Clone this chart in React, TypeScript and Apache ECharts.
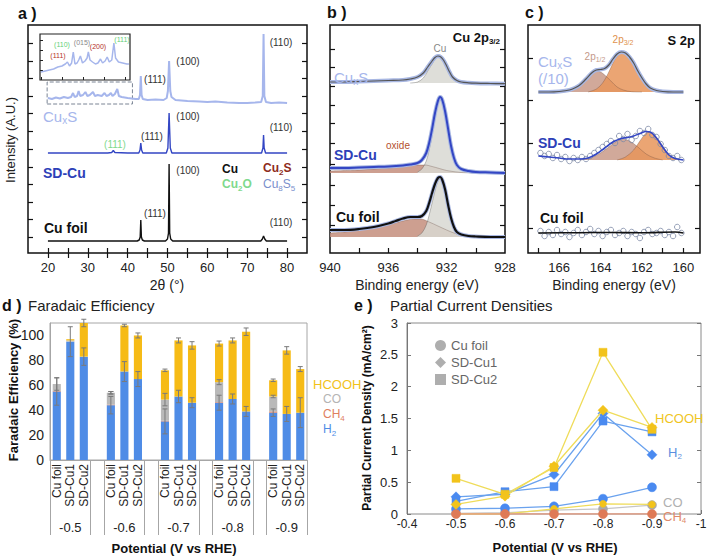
import React, { useEffect, useRef } from 'react';
import * as echarts from 'echarts';

const FONT = '"Liberation Sans", Arial, Helvetica, sans-serif';

// ---------- (a) XRD patterns: [2θ (°), intensity (a.u., stacked offsets)] ----------
const xrdCuFoil = [[20,12],[25,12],[30,12],[35,12],[40,12],[42.4,12],[42.9,13],[43.15,16],[43.3,33],[43.45,16],[43.7,13],[44.2,12],[49.5,12],[50.0,14],[50.25,20],[50.4,89],[50.55,20],[50.8,14],[51.3,12],[55,12],[60,12],[65,12],[70,12],[73.4,12],[73.8,14],[74.1,17],[74.4,14],[74.8,12],[80,12]];
const xrdSDCu = [[20,100],[25,100],[30,100],[35,100],[36.0,100.5],[36.4,102.5],[36.8,100.5],[40,100],[42.8,100],[43.1,103],[43.3,110],[43.5,103],[43.8,100],[49.7,100],[50.1,105],[50.4,140],[50.7,105],[51.1,100],[55,100],[60,100],[65,100],[70,100],[73.6,100],[73.95,105],[74.1,118],[74.25,105],[74.6,100],[80,100]];
const xrdCuxS = [[20,155],[21,154],[22,155.5],[23,154.5],[24,156],[25,155],[25.8,156],[26.3,160],[26.7,156],[27.3,157],[27.7,162],[28.1,157],[28.8,158],[29.4,161],[29.9,157],[30.5,158],[31.3,161],[31.8,157],[32.5,158],[33.5,157],[34.2,160],[34.7,157],[35.3,158],[35.8,160],[36.2,157],[36.8,159],[37.4,164],[37.8,157],[38.5,156],[40,155],[41,154.5],[42,154],[42.8,154],[43.1,158],[43.3,177],[43.5,158],[43.8,154],[45,153],[47,153.5],[49,153],[49.8,155],[50.1,162],[50.4,192],[50.7,162],[51,156],[52,153],[55,152],[58,151.5],[60,151],[62,151.5],[65,150.5],[68,150],[70,150],[72,150.5],[73.5,151],[73.9,157],[74.1,219],[74.3,157],[74.7,151],[76,150],[78,150.5],[80,150]];
const xrdInset = [[20,8],[21,9],[22,10],[23,11],[24,13],[25,14],[25.8,16],[26.3,18],[26.8,14],[27.3,17],[27.7,28],[28.1,16],[28.6,17],[29.0,20],[29.4,24],[29.9,17],[30.5,19],[31.0,22],[31.3,28],[31.7,20],[32.3,18],[33,16],[33.6,17],[34.2,21],[34.7,17],[35.3,19],[35.8,23],[36.3,18],[36.9,20],[37.4,37],[37.8,22],[38.5,18],[39.5,17],[40.5,16],[41,16]];

// ---------- (b) Cu 2p3/2 XPS: [binding energy (eV), intensity offset] ----------
const cu2pCuxSEnv = [[940,171],[939,171],[938,171.5],[937,172],[936,172.5],[935,173],[934.5,174],[934,176],[933.6,180],[933.3,186],[933,192],[932.8,195.5],[932.6,197],[932.4,196],[932.2,192.5],[932,187],[931.8,181],[931.6,176],[931.3,172.5],[931,171],[930.5,170.2],[930,169.8],[929,169.5],[928,169.3]];
const cu2pCuxSCu = [[934.5,170],[934,171],[933.6,175],[933.3,182],[933,189],[932.8,194],[932.6,196.5],[932.4,195.5],[932.2,192],[932,186.5],[931.8,180.5],[931.6,175.5],[931.3,172],[931,170.5],[930.5,170]];
const cu2pSDCuEnv = [[940,85],[939,85],[938,85.5],[937,86],[936,86.5],[935,87.5],[934.5,88.5],[934,90],[933.7,93],[933.4,100],[933.2,110],[933,124],[932.8,140],[932.6,152],[932.45,156],[932.3,153],[932.1,141],[931.9,124],[931.7,107],[931.5,95],[931.3,88],[931,84],[930.5,82],[930,81],[929,80.5],[928,80]];
const cu2pSDCuCu = [[934,81],[933.7,84],[933.4,92],[933.2,103],[933,118],[932.8,135],[932.6,149],[932.45,153],[932.3,150],[932.1,139],[931.9,122],[931.7,106],[931.5,94],[931.3,87],[931,83],[930.5,81],[930,80.5]];
const cu2pSDCuOxide = [[940,82],[938,83],[936,85],[935,86.5],[934,88],[933.5,88],[933,86.5],[932.5,84.5],[932,82.5],[931,80.5],[930,80]];
const cu2pCuFoilEnv = [[940,23],[939,23],[938,24],[937,26],[936,29.5],[935.5,32],[935,34.5],[934.5,36],[934,36],[933.7,37],[933.4,42],[933.2,50],[933,60],[932.8,69],[932.6,75],[932.45,76],[932.3,73],[932.1,63],[931.9,48],[931.7,35],[931.5,26],[931.3,21],[931,18.5],[930.5,17],[930,16.5],[929,16],[928,16]];
const cu2pCuFoilCu = [[934,17],[933.7,20],[933.4,28],[933.2,38],[933,50],[932.8,62],[932.6,72],[932.45,74],[932.3,71],[932.1,61],[931.9,47],[931.7,34],[931.5,25],[931.3,20],[931,17.5],[930.5,16.5]];
const cu2pCuFoilOxide = [[940,20],[939,21],[938,23],[937,25.5],[936,28.5],[935,32],[934.2,34],[933.8,34],[933.2,31],[932.6,27],[932,23],[931.5,20],[931,18],[930,16.5],[929,16]];

// ---------- (c) S 2p XPS ----------
const s2pCuxSEnv = [[167,161],[166.5,161],[166,161.5],[165.5,163],[165.2,165.5],[165,168],[164.7,174],[164.4,180.5],[164.2,183],[164,183.5],[163.8,184.5],[163.6,188],[163.4,194],[163.2,199],[163,201],[162.8,200],[162.6,196],[162.4,190],[162.2,182],[162,175],[161.8,169],[161.6,165],[161.3,162.5],[161,161.5],[160.5,161],[160,161]];
const s2pCuxS12 = [[165.8,161],[165.4,163],[165,167],[164.7,173.5],[164.4,180],[164.2,182],[164,181],[163.8,178],[163.5,172],[163.2,166],[162.9,163],[162.5,161.3],[162,161]];
const s2pCuxS32 = [[164.6,161],[164.2,164],[163.9,170],[163.6,181],[163.4,190],[163.2,197],[163,200],[162.8,199],[162.6,195],[162.4,189],[162.2,181],[162,174],[161.8,168],[161.6,164.5],[161.3,162],[161,161]];
const s2pSDCuEnv = [[167,97],[166.5,96],[166,95],[165.5,94],[165,94],[164.6,95],[164.2,99],[163.8,105],[163.4,111],[163,114.5],[162.7,115.5],[162.4,117],[162.1,119.5],[161.8,121.5],[161.6,121],[161.3,115],[161,106],[160.7,98],[160.4,94.5],[160,93]];
const s2pSDCu12 = [[165,93],[164.5,95],[164,100],[163.6,106],[163.2,112],[162.9,113.5],[162.6,112],[162.2,106],[161.8,99],[161.4,95],[161,93]];
const s2pSDCu32 = [[163.2,93],[162.8,96],[162.4,103],[162.1,112],[161.8,120],[161.65,121],[161.4,118],[161.1,110],[160.8,101],[160.5,95],[160.2,93]];
const s2pSDCuData = [[166.9,100],[166.7,97],[166.5,99],[166.3,95],[166.1,98],[165.9,94],[165.7,96],[165.5,92],[165.3,95],[165.1,93],[164.9,96],[164.7,94],[164.5,97],[164.3,100],[164.1,103],[163.9,106],[163.7,109],[163.5,112],[163.3,110],[163.1,117],[162.9,114],[162.7,119],[162.5,113],[162.3,117],[162.1,122],[161.9,120],[161.7,124],[161.5,118],[161.3,116],[161.1,109],[160.9,103],[160.7,97],[160.5,95],[160.3,97],[160.1,93]];
const s2pCuFoilFit = [[167,20],[165,20.3],[163.5,20.5],[162,20.2],[160.4,21],[160,20]];
const s2pCuFoilData = [[166.9,22],[166.7,17],[166.5,21],[166.3,18],[166.1,23],[165.9,19],[165.7,21],[165.5,16],[165.3,20],[165.1,23],[164.9,18],[164.7,21],[164.5,24],[164.3,19],[164.1,22],[163.9,17],[163.7,21],[163.5,23],[163.3,18],[163.1,20],[162.9,22],[162.7,17],[162.5,21],[162.3,19],[162.1,15],[161.9,21],[161.7,23],[161.5,19],[161.3,20],[161.1,22],[160.9,18],[160.7,21],[160.5,17],[160.3,26],[160.1,20]];

// ---------- (d) Faradaic efficiency (%) ----------
const potentials = ['-0.5', '-0.6', '-0.7', '-0.8', '-0.9'];
const catalysts = ['Cu foil', 'SD-Cu1', 'SD-Cu2'];
const feH2 = [55, 95, 83, 44, 71, 65, 31, 51, 46, 46, 49, 39, 38, 37, 38];
const feCH4 = [0.5, 0, 0, 0.5, 0, 0, 0.5, 0, 0, 0.5, 0, 0, 1, 0, 0];
const feCO = [5.5, 1, 0, 9.5, 0, 0, 17, 0, 0, 16, 0, 0, 12, 0, 0];
const feHCOOH = [0, 1, 27, 0, 37, 35, 23.5, 45, 46, 31, 47, 64, 13, 51, 35];
const errH2 = [11, 12, 7, 7, 8, 6, 10, 5, 4, 6, 4, 4, 3, 6, 12];
const errCO = [0, 0, 0, 1, 0, 0, 5, 0, 0, 2, 0, 0, 1, 0, 0];
const errTop = [5, 0, 3, 1, 1, 2, 1, 2, 3, 2, 2, 3, 1, 3, 2];

// ---------- (e) Partial current densities (mA/cm²) ----------
const potE = [-0.5, -0.6, -0.7, -0.8, -0.9];
const jH2CuFoil = [0.08, 0.09, 0.12, 0.24, 0.42];
const jH2SDCu1 = [0.27, 0.31, 0.62, 1.58, 0.93];
const jH2SDCu2 = [0.2, 0.35, 0.43, 1.46, 1.29];
const jHCOOHCuFoil = [0, 0, 0.08, 0.16, 0.15];
const jHCOOHSDCu1 = [0.15, 0.28, 0.75, 1.63, 1.36];
const jHCOOHSDCu2 = [0.56, 0.31, 0.73, 2.54, 1.33];
const jCOCuFoil = [0.01, 0.02, 0.06, 0.08, 0.14];
const jCH4CuFoil = [0, 0, 0, 0, 0];

function buildOption(): any {
  // slots for panel d (groups separated by an empty slot)
  const slotKeys: string[] = [];
  potentials.forEach((p, gi) => {
    catalysts.forEach((c) => slotKeys.push(c + '|' + p));
    if (gi < potentials.length - 1) slotKeys.push('gap|' + gi);
  });
  const toSlots = (arr: number[]) => {
    let k = 0;
    return slotKeys.map((s) => (s.startsWith('gap') ? null : arr[k++]));
  };
  const sepIdx: number[] = [];
  potentials.forEach((_, gi) => { sepIdx.push(gi * 4); if (gi < potentials.length - 1) sepIdx.push(gi * 4 + 3); });
  const errBars: number[][] = [];
  potentials.forEach((_, gi) => catalysts.forEach((_c, ci) => {
    const idx = gi * 4 + ci; const i = gi * 3 + ci;
    const h = feH2[i];
    errBars.push([idx, h - errH2[i], h + errH2[i]]);
    const co = h + feCH4[i] + feCO[i];
    if (errCO[i] > 0) errBars.push([idx, co - errCO[i], co + errCO[i]]);
    const tot = co + feHCOOH[i];
    if (errTop[i] > 0) errBars.push([idx, tot - errTop[i], tot + errTop[i]]);
  }));
  const pe = (arr: number[]) => potE.map((x, i) => [x, arr[i]]);

  const tk = { color: '#111', width: 1.2 };
  const off = { show: false };
  const frameGrid = (left: number, top: number, width: number, height: number, color = '#111', bw = 1.5) =>
    ({ left, top, width, height, show: true, borderColor: color, borderWidth: bw, backgroundColor: 'transparent', outerBoundsMode: 'none', containLabel: false });
  const lbl = (extra: any = {}) => ({ fontSize: 13, color: '#222', fontFamily: FONT, ...extra });

  const line = (data: any, xi: number, yi: number, color: string, width: number, extra: any = {}) => ({
    type: 'line', data, xAxisIndex: xi, yAxisIndex: yi, symbol: 'none', showSymbol: false, silent: true,
    lineStyle: { color, width }, z: 3, ...extra,
  });
  const fill = (data: any, xi: number, yi: number, color: string, origin: number, edge = 'rgba(90,60,50,0.5)') => ({
    type: 'line', data, xAxisIndex: xi, yAxisIndex: yi, symbol: 'none', showSymbol: false, silent: true, smooth: 0.35,
    lineStyle: { color: edge, width: 0.6 }, areaStyle: { color, opacity: 0.85, origin }, z: 1,
  });
  const scatterOpen = (data: any, xi: number, yi: number) => ({
    type: 'scatter', data, xAxisIndex: xi, yAxisIndex: yi, symbol: 'circle', symbolSize: 5.5, silent: true,
    itemStyle: { color: 'rgba(255,255,255,0)', borderColor: '#7d8aa6', borderWidth: 1 }, z: 2,
  });
  const eLine = (name: string, arr: number[], lineColor: string, mColor: string, symbol: string, size: number, z = 4) => ({
    type: 'line', name, data: pe(arr), xAxisIndex: 8, yAxisIndex: 7, symbol, symbolSize: size, showSymbol: true, silent: true,
    lineStyle: { color: lineColor, width: 1.3 }, itemStyle: { color: mColor, borderColor: mColor, borderWidth: 0.5 }, z,
  });

  const HALO = '#a8b7e2';
  const LB = '#a6b6ec';
  const BLUE = '#2d3fb8';

  // ---------- texts ----------
  const t = (x: number, y: number, text: string, size = 13, color = '#222', bold = false, align = 'left', rot = 0) => ({
    type: 'text', x, y, rotation: rot, silent: true, z: 100,
    style: { text, fill: color, font: (bold ? 'bold ' : 'normal ') + size + 'px ' + FONT, align, verticalAlign: 'middle', textAlign: align, textVerticalAlign: 'middle' },
  });
  const rt = (x: number, y: number, parts: [string, string][], size: number, color: string, bold = false, align = 'left') => {
    const w = bold ? 'bold' : 'normal';
    return {
      type: 'text', x, y, silent: true, z: 100,
      style: {
        text: parts.map(([s, k]) => '{' + k + '|' + s + '}').join(''), fill: color, font: w + ' ' + size + 'px ' + FONT,
        align, verticalAlign: 'middle', textAlign: align, textVerticalAlign: 'middle',
        rich: {
          m: { fontSize: size, fontWeight: w, fontFamily: FONT, fill: color, verticalAlign: 'bottom', padding: [0, 0, 2, 0] },
          s: { fontSize: Math.round(size * 0.65), fontWeight: w, fontFamily: FONT, fill: color, verticalAlign: 'bottom' },
        },
      },
    };
  };
  const CuxS = (x: number, y: number) => rt(x, y, [['Cu', 'm'], ['x', 's'], ['S', 'm']], 15, LB);

  const graphic = [
    // panel a
    t(18, 13, 'a )', 16, '#111', true),
    t(10, 140, 'Intensity (A.U.)', 13, '#222', false, 'center', Math.PI / 2),
    t(167, 285, '2θ (°)', 14, '#222', false, 'center'),
    CuxS(43, 117),
    t(43, 173, 'SD-Cu', 14, BLUE, true),
    t(44, 228, 'Cu foil', 14, '#111', true),
    t(188, 61, '(100)', 10, '#333', false, 'center'),
    t(188, 116, '(100)', 10, '#333', false, 'center'),
    t(188, 170, '(100)', 10, '#333', false, 'center'),
    t(155, 79, '(111)', 10, '#333', false, 'center'),
    t(152, 136, '(111)', 10, '#333', false, 'center'),
    t(155, 213, '(111)', 10, '#333', false, 'center'),
    t(281, 42, '(110)', 10, '#333', false, 'center'),
    t(281, 127, '(110)', 10, '#333', false, 'center'),
    t(281, 222, '(110)', 10, '#333', false, 'center'),
    t(115, 144, '(111)', 10, '#7fd98d', false, 'center'),
    t(222, 169, 'Cu', 12, '#111', true),
    rt(222, 185, [['Cu', 'm'], ['2', 's'], ['O', 'm']], 12, '#7fd98d', true),
    rt(263, 169, [['Cu', 'm'], ['2', 's'], ['S', 'm']], 12, '#8e2c1c', true),
    rt(263, 185, [['Cu', 'm'], ['8', 's'], ['S', 'm'], ['5', 's']], 12, '#7a8fcc'),
    t(58, 55, '(111)', 7, '#b4301e', false, 'center'),
    t(62, 44, '(110)', 7, '#5fcf78', false, 'center'),
    t(82, 42, '(015)', 7, '#888', false, 'center'),
    t(98, 46, '(200)', 7, '#b4301e', false, 'center'),
    t(122, 39, '(111)', 7, '#5fcf78', false, 'center'),
    // panel b
    t(327, 12, 'b )', 16, '#111', true),
    t(417, 285, 'Binding energy (eV)', 14, '#222', false, 'center'),
    rt(500, 38, [['Cu 2p', 'm'], ['3/2', 's']], 13, '#111', true, 'right'),
    t(440, 48, 'Cu', 10, '#888', false, 'center'),
    CuxS(334, 78),
    t(334, 155, 'SD-Cu', 14, BLUE, true),
    t(398, 145, 'oxide', 10, '#b4502e', false, 'center'),
    t(336, 217, 'Cu foil', 14, '#111', true),
    // panel c
    t(525, 12, 'c )', 16, '#111', true),
    t(614, 285, 'Binding energy (eV)', 14, '#222', false, 'center'),
    t(695, 40, 'S 2p', 13, '#111', true, 'right'),
    rt(623, 40, [['2p', 'm'], ['3/2', 's']], 10, '#e0914c', false, 'center'),
    rt(595, 57, [['2p', 'm'], ['1/2', 's']], 10, '#c4998a', false, 'center'),
    CuxS(538, 62),
    t(538, 78, '(/10)', 15, LB),
    t(538, 143, 'SD-Cu', 14, BLUE, true),
    t(540, 218, 'Cu foil', 14, '#111', true),
    // panel d
    t(2, 305, 'd )', 16, '#111', true),
    t(28, 305, 'Faradaic Efficiency', 15, '#222'),
    t(13, 390, 'Faradaic Efficiency (%)', 13, '#111', true, 'center', Math.PI / 2),
    t(174, 548, 'Potential (V vs RHE)', 13, '#111', true, 'center'),
    t(313, 384, 'HCOOH', 13, '#f2c21a'),
    t(323, 399, 'CO', 12, '#b4b4b4'),
    rt(323, 415, [['CH', 'm'], ['4', 's']], 12, '#e0805f'),
    rt(323, 430, [['H', 'm'], ['2', 's']], 12, '#4f8ce6'),
    // panel e
    t(354, 305, 'e )', 16, '#111', true),
    t(390, 305, 'Partial Current Densities', 15, '#222'),
    t(367, 418, 'Partial Current Density (mA/cm²)', 12, '#111', true, 'center', Math.PI / 2),
    t(555, 547, 'Potential (V vs RHE)', 13, '#111', true, 'center'),
    t(655, 418, 'HCOOH', 13, '#f0c51e'),
    rt(668, 453, [['H', 'm'], ['2', 's']], 13, '#5b8fe0'),
    t(663, 502, 'CO', 13, '#b0b0b0'),
    rt(663, 517, [['CH', 'm'], ['4', 's']], 13, '#e08a6a'),
  ];

  return {
    animation: false,
    backgroundColor: '#fff',
    textStyle: { fontFamily: FONT },
    grid: [
      frameGrid(28, 25, 279, 228),
      frameGrid(330, 25, 175, 228),
      frameGrid(528, 25, 172, 228),
      frameGrid(50, 323, 257, 137, '#a6a6a6', 1),
      frameGrid(407, 323, 294, 191, '#8a8a8a', 1),
      { ...frameGrid(40, 34, 90, 46, '#222', 1.2), backgroundColor: '#fff' },
    ],
    xAxis: [
      { type: 'value', gridIndex: 0, min: 15, max: 85, axisLine: off, splitLine: off,
        axisTick: { show: true, inside: true, length: 5, lineStyle: tk, customValues: [20, 25, 30, 35, 40, 45, 50, 55, 60, 65, 70, 75, 80] },
        axisLabel: lbl({ margin: 8, customValues: [20, 30, 40, 50, 60, 70, 80] }) },
      { type: 'value', gridIndex: 0, position: 'top', min: 15, max: 85, axisLine: off, splitLine: off,
        axisTick: { show: true, inside: true, length: 5, lineStyle: tk, customValues: [20, 25, 30, 35, 40, 45, 50, 55, 60, 65, 70, 75, 80] },
        axisLabel: { show: false } },
      { type: 'value', gridIndex: 1, min: 928, max: 940, inverse: true, axisLine: off, splitLine: off,
        axisTick: { show: true, inside: true, length: 5, lineStyle: tk, customValues: [930, 932, 934, 936, 938] },
        axisLabel: lbl({ margin: 8, customValues: [928, 932, 936, 940] }) },
      { type: 'value', gridIndex: 1, position: 'top', min: 928, max: 940, inverse: true, axisLine: off, splitLine: off,
        axisTick: { show: false }, axisLabel: { show: false } },
      { type: 'value', gridIndex: 2, min: 159.2, max: 167.5, inverse: true, axisLine: off, splitLine: off,
        axisTick: { show: true, inside: true, length: 5, lineStyle: tk, customValues: [160, 161, 162, 163, 164, 165, 166, 167] },
        axisLabel: lbl({ margin: 8, customValues: [160, 162, 164, 166] }) },
      { type: 'value', gridIndex: 2, position: 'top', min: 159.2, max: 167.5, inverse: true, axisLine: off, splitLine: off,
        axisTick: { show: false }, axisLabel: { show: false } },
      { type: 'category', gridIndex: 3, data: slotKeys, axisLine: { show: true, lineStyle: { color: '#a6a6a6' } },
        axisTick: { show: true, inside: false, length: 75, interval: (i: number) => sepIdx.includes(i), lineStyle: { color: '#a6a6a6' } },
        axisLabel: lbl({ fontSize: 12, rotate: 90, margin: 4, interval: 0, formatter: (v: string) => (v.startsWith('gap') ? '' : v.split('|')[0]) }) },
      { type: 'category', gridIndex: 3, data: slotKeys, position: 'bottom', offset: 61, axisLine: off, axisTick: off,
        axisLabel: lbl({ margin: 0, interval: 0, formatter: (v: string) => { const [c, p] = v.split('|'); return c === catalysts[1] ? p : ''; } }) },
      { type: 'value', gridIndex: 4, min: -1, max: -0.4, interval: 0.1, inverse: true, axisLine: off, splitLine: off,
        axisTick: { show: true, inside: true, length: 4, lineStyle: { color: '#777' } },
        axisLabel: lbl({ fontSize: 12, margin: 4 }) },
      { type: 'value', gridIndex: 5, min: 19.75, max: 41.25, axisLine: off, splitLine: off,
        axisTick: { show: true, inside: true, length: 3, lineStyle: { color: '#222' }, customValues: [20, 25, 30, 35, 40] },
        axisLabel: { show: false } },
    ],
    yAxis: [
      { type: 'value', gridIndex: 0, min: 0, max: 228, axisLine: off, splitLine: off,
        axisTick: { show: true, inside: true, length: 5, lineStyle: tk, customValues: [16, 34, 51, 69, 86, 104, 122, 140, 157, 175, 192, 210] },
        axisLabel: { show: false } },
      { type: 'value', gridIndex: 0, position: 'right', min: 0, max: 228, axisLine: off, splitLine: off,
        axisTick: { show: true, inside: true, length: 5, lineStyle: tk, customValues: [16, 34, 51, 69, 86, 104, 122, 140, 157, 175, 192, 210] },
        axisLabel: { show: false } },
      { type: 'value', gridIndex: 1, min: 0, max: 228, axisLine: off, splitLine: off,
        axisTick: { show: true, inside: true, length: 5, lineStyle: tk, customValues: [28, 48, 68, 89, 110, 130, 148, 167, 186, 204] },
        axisLabel: { show: false } },
      { type: 'value', gridIndex: 1, position: 'right', min: 0, max: 228, axisLine: off, splitLine: off,
        axisTick: { show: true, inside: true, length: 5, lineStyle: tk, customValues: [28, 48, 68, 89, 110, 130, 148, 167, 186, 204] },
        axisLabel: { show: false } },
      { type: 'value', gridIndex: 2, min: 0, max: 228, axisLine: off, splitLine: off,
        axisTick: { show: true, inside: true, length: 5, lineStyle: tk, customValues: [25, 68, 110, 153, 195] },
        axisLabel: { show: false } },
      { type: 'value', gridIndex: 2, position: 'right', min: 0, max: 228, axisLine: off, splitLine: off,
        axisTick: { show: true, inside: true, length: 5, lineStyle: tk, customValues: [25, 68, 110, 153, 195] },
        axisLabel: { show: false } },
      { type: 'value', gridIndex: 3, min: 0, max: 110, interval: 20, axisLine: { show: true, lineStyle: { color: '#a6a6a6' } }, splitLine: off,
        axisTick: off, axisLabel: lbl({ fontSize: 14, margin: 6, showMaxLabel: false }) },
      { type: 'value', gridIndex: 4, min: 0, max: 3, interval: 0.5, axisLine: { show: true, lineStyle: { color: '#777' } }, splitLine: off,
        axisTick: { show: true, inside: true, length: 4, lineStyle: { color: '#777' } }, axisLabel: lbl({ fontSize: 13, margin: 9 }) },
      { type: 'value', gridIndex: 4, position: 'right', min: 0, max: 3, interval: 0.5, axisLine: off, splitLine: off,
        axisTick: { show: true, inside: true, length: 4, lineStyle: { color: '#777' } }, axisLabel: { show: false } },
      { type: 'value', gridIndex: 5, min: 0, max: 46, axisLine: off, splitLine: off,
        axisTick: { show: true, inside: true, length: 3, lineStyle: { color: '#222' }, customValues: [10, 20, 30, 40] },
        axisLabel: { show: false } },
    ],
    legend: {
      left: 430, top: 334, orient: 'vertical', itemGap: 4, itemWidth: 11, itemHeight: 11, selectedMode: false,
      textStyle: { fontSize: 13, color: '#666', fontFamily: FONT },
      data: [{ name: 'Cu foil', icon: 'circle' }, { name: 'SD-Cu1', icon: 'diamond' }, { name: 'SD-Cu2', icon: 'rect' }],
    },
    series: [
      // ---- panel a ----
      line(xrdCuFoil, 0, 0, '#111', 1.4),
      line(xrdSDCu, 0, 0, '#3346c4', 1.4),
      line(xrdCuxS, 0, 0, LB, 2, {
        markArea: { silent: true, itemStyle: { color: 'rgba(0,0,0,0)', borderColor: '#7a8494', borderType: 'dashed', borderWidth: 1 },
          data: [[{ coord: [19.8, 149] }, { coord: [41.2, 171] }]] },
      }),
      line(xrdInset, 9, 9, LB, 1.5),
      // ---- panel b ----
      fill(cu2pCuxSCu, 2, 2, '#d8d8d2', 170, 'rgba(80,80,80,0.6)'),
      line(cu2pCuxSEnv, 2, 2, HALO, 4, { smooth: 0.35, z: 2 }),
      line(cu2pCuxSEnv, 2, 2, '#555', 1.2, { smooth: 0.35 }),
      fill(cu2pSDCuOxide, 2, 2, '#c48e7c', 80),
      fill(cu2pSDCuCu, 2, 2, '#d8d8d2', 80, 'rgba(80,80,80,0.6)'),
      line(cu2pSDCuEnv, 2, 2, HALO, 4, { smooth: 0.35, z: 2 }),
      line(cu2pSDCuEnv, 2, 2, '#3346c4', 2, { smooth: 0.35 }),
      fill(cu2pCuFoilOxide, 2, 2, '#c48e7c', 16),
      fill(cu2pCuFoilCu, 2, 2, '#d8d8d2', 16, 'rgba(80,80,80,0.6)'),
      line(cu2pCuFoilEnv, 2, 2, HALO, 4, { smooth: 0.35, z: 2 }),
      line(cu2pCuFoilEnv, 2, 2, '#111', 2.2, { smooth: 0.35 }),
      // ---- panel c ----
      fill(s2pCuxS12, 4, 4, '#c99a88', 161),
      fill(s2pCuxS32, 4, 4, '#e8955a', 161),
      line(s2pCuxSEnv, 4, 4, HALO, 4, { smooth: 0.35, z: 2 }),
      line(s2pCuxSEnv, 4, 4, '#555', 1.2, { smooth: 0.35 }),
      fill(s2pSDCu12, 4, 4, '#c99a88', 93),
      fill(s2pSDCu32, 4, 4, '#e8955a', 93),
      scatterOpen(s2pSDCuData, 4, 4),
      line(s2pSDCuEnv, 4, 4, '#3346c4', 1.6, { smooth: 0.35 }),
      scatterOpen(s2pCuFoilData, 4, 4),
      line(s2pCuFoilFit, 4, 4, '#111', 1.6, { smooth: 0.35 }),
      // ---- panel d ----
      { type: 'bar', name: 'H2 FE', stack: 'fe', xAxisIndex: 6, yAxisIndex: 6, barWidth: '60%', data: toSlots(feH2), itemStyle: { color: '#4f8ce6' }, silent: true },
      { type: 'bar', name: 'CH4 FE', stack: 'fe', xAxisIndex: 6, yAxisIndex: 6, barWidth: '60%', data: toSlots(feCH4), itemStyle: { color: '#e0805f' }, silent: true },
      { type: 'bar', name: 'CO FE', stack: 'fe', xAxisIndex: 6, yAxisIndex: 6, barWidth: '60%', data: toSlots(feCO), itemStyle: { color: '#b9b9b9' }, silent: true },
      { type: 'bar', name: 'HCOOH FE', stack: 'fe', xAxisIndex: 6, yAxisIndex: 6, barWidth: '60%', data: toSlots(feHCOOH), itemStyle: { color: '#f6bb16' }, silent: true },
      {
        type: 'custom', name: 'FE error', xAxisIndex: 6, yAxisIndex: 6, data: errBars, clip: false, silent: true, z: 10,
        encode: { x: 0, y: [1, 2] },
        renderItem: (_p: any, api: any) => {
          const x = api.value(0);
          const a = api.coord([x, api.value(1)]);
          const b = api.coord([x, api.value(2)]);
          const w = 2.5;
          const st = { stroke: '#7a7a7a', lineWidth: 1 };
          return {
            type: 'group', children: [
              { type: 'line', shape: { x1: a[0], y1: a[1], x2: b[0], y2: b[1] }, style: st },
              { type: 'line', shape: { x1: a[0] - w, y1: a[1], x2: a[0] + w, y2: a[1] }, style: st },
              { type: 'line', shape: { x1: b[0] - w, y1: b[1], x2: b[0] + w, y2: b[1] }, style: st },
            ],
          };
        },
      },
      // ---- panel e ----
      { type: 'scatter', name: 'Cu foil', data: [], xAxisIndex: 8, yAxisIndex: 7, itemStyle: { color: '#9a9a9a' } },
      { type: 'scatter', name: 'SD-Cu1', data: [], xAxisIndex: 8, yAxisIndex: 7, itemStyle: { color: '#9a9a9a' } },
      { type: 'scatter', name: 'SD-Cu2', data: [], xAxisIndex: 8, yAxisIndex: 7, itemStyle: { color: '#9a9a9a' } },
      eLine('CO Cu foil', jCOCuFoil, '#c6c6c6', '#a9a9a9', 'circle', 9, 3),
      eLine('H2 Cu foil', jH2CuFoil, '#6aa2ee', '#4a8af0', 'circle', 9),
      eLine('H2 SD-Cu1', jH2SDCu1, '#6aa2ee', '#4a8af0', 'diamond', 10),
      eLine('H2 SD-Cu2', jH2SDCu2, '#6aa2ee', '#4a8af0', 'rect', 8),
      eLine('HCOOH Cu foil', jHCOOHCuFoil, '#efdc5a', '#f2c31b', 'circle', 7, 5),
      eLine('HCOOH SD-Cu1', jHCOOHSDCu1, '#efdc5a', '#f2c31b', 'diamond', 10, 5),
      eLine('HCOOH SD-Cu2', jHCOOHSDCu2, '#efdc5a', '#f2c31b', 'rect', 8, 5),
      eLine('CH4 Cu foil', jCH4CuFoil, '#e59a80', '#df7a56', 'circle', 9, 6),
    ],
    graphic,
  };
}

export default function App() {
  const ref = useRef<HTMLDivElement>(null);
  useEffect(() => {
    if (!ref.current) return;
    const chart = echarts.init(ref.current, null, { renderer: 'svg' });
    chart.setOption(buildOption());
    return () => chart.dispose();
  }, []);
  return <div ref={ref} style={{ position: 'absolute', left: 0, top: 0, width: 707, height: 558, background: '#fff' }} />;
}
